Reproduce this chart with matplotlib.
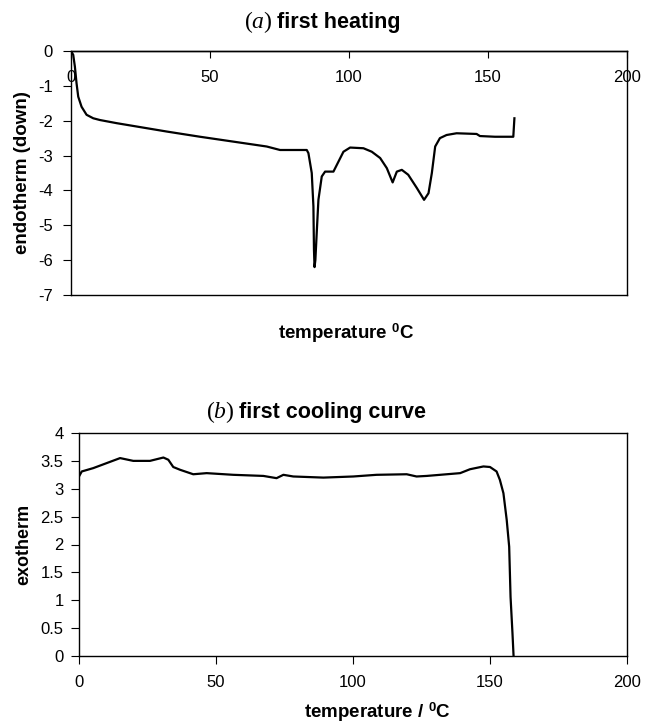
"""
DSC traces: (a) first heating, (b) first cooling curve.
"""
import matplotlib
matplotlib.use("Agg")
import matplotlib.pyplot as plt

# ── Fonts ──────────────────────────────────────────────────────────────────
plt.rcParams["font.family"] = ["Liberation Sans", "DejaVu Sans"]
plt.rcParams["axes.unicode_minus"] = False
plt.rcParams["mathtext.fontset"] = "custom"
plt.rcParams["mathtext.rm"] = "Liberation Serif"
plt.rcParams["mathtext.it"] = "Liberation Serif:italic"
plt.rcParams["mathtext.bf"] = "Liberation Sans:bold"

# ── Data ───────────────────────────────────────────────────────────────────
heat_temp = [0, 0.8, 1.4, 2.0, 2.6, 3.8, 5.6, 8, 10.4, 16.4, 22.4, 34.4,
             46.4, 58.4, 70.4, 75.2, 84.8, 85.4, 86.6, 87.2, 87.4, 87.6,
             87.9, 88.4, 89.0, 90.2, 91.4, 94.4, 95.6, 98.0, 100.4, 105.2,
             108.2, 111.2, 113.6, 115.7, 117.2, 119.0, 121.3, 124.4, 127.0,
             128.6, 129.8, 131.0, 132.7, 135.1, 138.7, 145.9, 147.1, 152.5,
             159.1, 159.5]
heat_signal = [0, -0.11, -0.45, -0.93, -1.31, -1.6, -1.83, -1.93, -1.98,
               -2.07, -2.15, -2.31, -2.46, -2.6, -2.74, -2.84, -2.84, -2.93,
               -3.5, -4.46, -5.7, -6.2, -6.0, -5.2, -4.27, -3.6, -3.46,
               -3.46, -3.27, -2.89, -2.77, -2.79, -2.89, -3.07, -3.36, -3.77,
               -3.46, -3.41, -3.55, -3.93, -4.27, -4.08, -3.5, -2.74, -2.5,
               -2.41, -2.36, -2.38, -2.44, -2.46, -2.46, -1.93]

cool_temp = [0, 1, 5.2, 10.1, 15, 19.8, 25.9, 30.8, 32.6, 34.4, 36.9, 41.7,
             46.6, 56.3, 67.3, 72.1, 74.6, 78.2, 89.2, 100.1, 108.6, 119.6,
             123.2, 126.9, 131.8, 139.1, 142.7, 147.6, 150, 152.4, 153.6,
             154.9, 156.1, 157, 157.5, 158.2, 158.6]
cool_signal = [3.22, 3.31, 3.37, 3.46, 3.55, 3.5, 3.5, 3.56, 3.52, 3.39,
               3.34, 3.26, 3.28, 3.25, 3.23, 3.19, 3.25, 3.22, 3.2, 3.22,
               3.25, 3.26, 3.22, 3.23, 3.25, 3.28, 3.35, 3.4, 3.39, 3.31,
               3.16, 2.92, 2.44, 1.96, 1.06, 0.41, 0]

x_ticks = [0, 50, 100, 150, 200]
heat_yticks = [0, -1, -2, -3, -4, -5, -6, -7]
cool_yticks = [0, 0.5, 1, 1.5, 2, 2.5, 3, 3.5, 4]

# ── Figure ─────────────────────────────────────────────────────────────────
W, H = 645, 725
fig = plt.figure(figsize=(W / 100, H / 100), dpi=100)
fig.patch.set_facecolor("white")

def px_axes(left, top, right, bottom):
    return fig.add_axes([left / W, 1 - bottom / H,
                         (right - left) / W, (bottom - top) / H])

TICK_FS = 12
LINE_KW = dict(color="black", lw=1.6, solid_joinstyle="round")

# ── (a) first heating ──────────────────────────────────────────────────────
ax1 = px_axes(71, 51, 627, 295)
ax1.plot(heat_temp, heat_signal, **LINE_KW)
ax1.set_xlim(x_ticks[0], x_ticks[-1])
ax1.set_ylim(heat_yticks[-1], heat_yticks[0])
ax1.set_xticks(x_ticks)
ax1.set_yticks(heat_yticks)
ax1.spines["bottom"].set_position(("data", 0))
ax1.axhline(heat_yticks[-1], color="black", lw=1.0, clip_on=False)
for s in ax1.spines.values():
    s.set_linewidth(1.0)
ax1.tick_params(axis="x", direction="out", length=5, pad=9,
                labelsize=TICK_FS)
ax1.tick_params(axis="y", direction="out", length=6, pad=7,
                labelsize=TICK_FS)
ax1.set_ylabel("endotherm (down)", fontsize=13.5, fontweight="bold",
               labelpad=5)

fig.text(273 / W, 1 - 28 / H, "$(a)$", fontsize=17, ha="right",
         va="baseline")
fig.text(277 / W, 1 - 28 / H, "first heating", fontsize=15.5,
         fontweight="bold", ha="left", va="baseline")
fig.text(346 / W, 1 - 339 / H, r"temperature $^\mathbf{0}$C",
         fontsize=13.5, fontweight="bold", ha="center", va="baseline")

# ── (b) first cooling curve ────────────────────────────────────────────────
ax2 = px_axes(79, 433, 627, 656)
ax2.plot(cool_temp, cool_signal, **LINE_KW)
ax2.set_xlim(x_ticks[0], x_ticks[-1])
ax2.set_ylim(cool_yticks[0], cool_yticks[-1])
ax2.set_xticks(x_ticks)
ax2.set_yticks(cool_yticks)
ax2.set_yticklabels([f"{v:g}" for v in cool_yticks])
for s in ax2.spines.values():
    s.set_linewidth(1.0)
ax2.tick_params(axis="x", direction="out", length=6, pad=8,
                labelsize=TICK_FS)
ax2.tick_params(axis="y", direction="out", length=6, pad=5,
                labelsize=TICK_FS)
ax2.set_ylabel("exotherm", fontsize=13, fontweight="bold", labelpad=6)

fig.text(235 / W, 1 - 418 / H, "$(b)$", fontsize=17, ha="right",
         va="baseline")
fig.text(239 / W, 1 - 418 / H, "first cooling curve", fontsize=15.5,
         fontweight="bold", ha="left", va="baseline")
fig.text(377 / W, 1 - 718 / H, r"temperature / $^\mathbf{0}$C",
         fontsize=13.5, fontweight="bold", ha="center", va="baseline")

fig.savefig("out.png", dpi=100, facecolor="white")
plt.close(fig)
